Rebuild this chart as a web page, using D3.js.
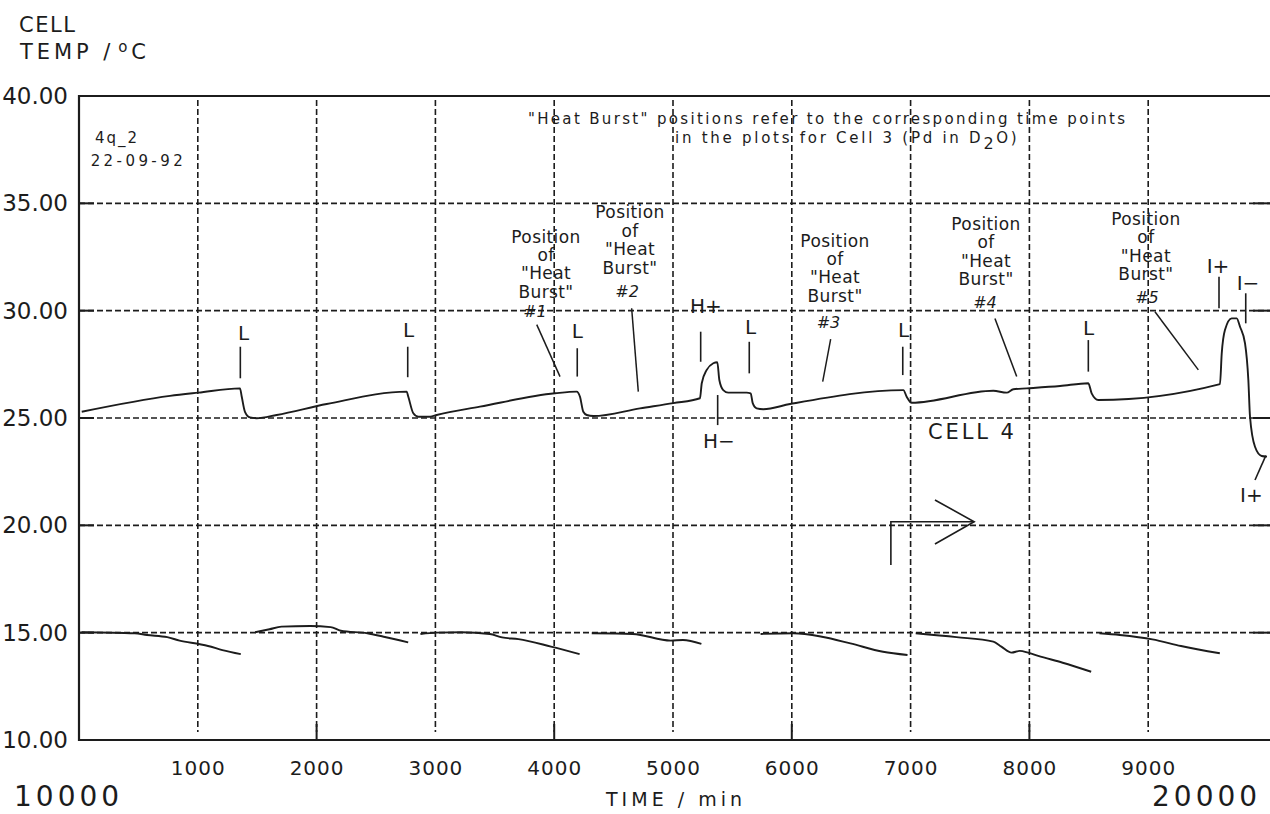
<!DOCTYPE html>
<html>
<head>
<meta charset="utf-8">
<title>Cell 4 temperature vs time</title>
<script src="https://cdn.jsdelivr.net/npm/d3@7"></script>
<style>
  html, body { margin: 0; padding: 0; background: #fff; }
  svg { display: block; }
  .txt { font-family: 'DejaVu Sans', sans-serif; fill: #1c1c1c; }
</style>
</head>
<body>
<svg id="chart" width="1270" height="814"></svg>
<script>
'use strict';

/* ── Data (time in min after 10000, temperature in °C) ───── */
const X_TICKS = [1000, 2000, 3000, 4000, 5000, 6000, 7000, 8000, 9000];
const X_MAJOR = [2000, 4000, 6000, 8000];
const Y_TICKS = [10, 15, 20, 25, 30, 35, 40];
const X_LEFT_LABEL  = '10000';
const X_RIGHT_LABEL = '20000';

/* Cell 4 temperature (upper trace) */
const CELL4 = [
  [23, 25.29], [766, 26.03], [1004, 26.18], [1355, 26.38], [1370, 25.99], [1397, 25.29],
  [1439, 25.03], [1496, 24.99], [1664, 25.14], [2085, 25.65], [2758, 26.23], [2772, 25.99],
  [2814, 25.22], [2856, 25.06], [2955, 25.06], [3011, 25.14], [3375, 25.53], [4007, 26.15],
  [4189, 26.23], [4217, 25.99], [4245, 25.29], [4274, 25.14], [4329, 25.09], [4722, 25.45],
  [5003, 25.69], [5227, 25.92], [5242, 26.62], [5284, 27.24], [5339, 27.55], [5373, 27.6],
  [5390, 26.77], [5423, 26.3], [5465, 26.18], [5620, 26.18], [5654, 26.15], [5671, 25.69],
  [5704, 25.45], [5760, 25.41], [5985, 25.65], [6939, 26.3], [6967, 25.99], [7009, 25.71],
  [7696, 26.27], [7809, 26.18], [7865, 26.34], [7977, 26.38], [8258, 26.49], [8496, 26.62],
  [8524, 26.15], [8580, 25.84], [9604, 26.58], [9619, 28.01], [9646, 29.1], [9703, 29.64],
  [9745, 29.64], [9773, 29.25], [9815, 28.48], [9843, 26.77], [9857, 25.06], [9899, 23.66],
  [9955, 23.23], [10000, 23.2]
];

/* Lower trace, broken into the runs between load changes */
const LOWER_RUNS = [
  [[22, 15.02], [469, 14.97], [572, 14.89], [743, 14.79], [847, 14.63], [1018, 14.46],
   [1086, 14.38], [1207, 14.19], [1362, 14.0]],
  [[1482, 15.02], [1603, 15.16], [1705, 15.28], [1946, 15.31], [2118, 15.26], [2204, 15.09],
   [2427, 14.97], [2565, 14.81], [2771, 14.55]],
  [[2874, 14.94], [3011, 15.0], [3217, 15.02], [3458, 14.94], [3561, 14.78], [3699, 14.7],
   [3973, 14.35], [4214, 14.0]],
  [[4316, 14.97], [4661, 14.94], [4981, 14.63], [5084, 14.66], [5239, 14.48]],
  [[5737, 14.94], [6013, 14.97], [6253, 14.81], [6493, 14.5], [6768, 14.11], [6974, 13.96]],
  [[7043, 14.97], [7386, 14.79], [7696, 14.58], [7764, 14.35], [7850, 14.07], [7919, 14.15],
   [7988, 14.07], [8074, 13.92], [8280, 13.6], [8520, 13.18]],
  [[8589, 14.97], [8761, 14.89], [9035, 14.69], [9276, 14.38], [9603, 14.04]]
];

/* Event markers: label, line time, line top/bottom temp, label anchor */
const MARKS = [
  { label: 'L',  t: 1358, top: 28.32, bottom: 26.85, lt: 1338, lT: 28.63 },
  { label: 'L',  t: 2767, top: 28.32, bottom: 26.90, lt: 2727, lT: 28.79 },
  { label: 'L',  t: 4194, top: 28.25, bottom: 26.93, lt: 4147, lT: 28.71 },
  { label: 'H+', t: 5233, top: 29.02, bottom: 27.62, lt: 5143, lT: 29.89 },
  { label: 'L',  t: 5642, top: 28.55, bottom: 27.08, lt: 5606, lT: 28.91 },
  { label: 'L',  t: 6934, top: 28.32, bottom: 27.00, lt: 6894, lT: 28.79 },
  { label: 'L',  t: 8496, top: 28.63, bottom: 27.16, lt: 8451, lT: 28.87 },
  { label: 'I+', t: 9596, top: 31.58, bottom: 30.11, lt: 9492, lT: 31.74 },
  { label: 'I\u2212', t: 9821, top: 30.81, bottom: 29.41, lt: 9745, lT: 30.96 },
  { label: 'H\u2212', t: 5376, top: 26.07, bottom: 24.67, lt: 5253, lT: 23.60 }
];
const I_PLUS_END = { label: 'I+', from: [9990, 23.25], to: [9899, 22.11], lt: 9773, lT: 21.1 };

/* "Heat Burst" position notes */
const BURST_LINES = ['Position', 'of', '"Heat', 'Burst"'];
const BURSTS = [
  { n: '#1', t: 3931, T: 33.17, ht: 3838, hT: 29.70, from: [3853, 29.35], to: [4049, 26.93] },
  { n: '#2', t: 4638, T: 34.30, ht: 4613, hT: 30.62, from: [4652, 30.11], to: [4708, 26.23] },
  { n: '#3', t: 6364, T: 32.98, ht: 6309, hT: 29.18, from: [6327, 28.67], to: [6260, 26.69] },
  { n: '#4', t: 7635, T: 33.76, ht: 7626, hT: 30.11, from: [7710, 29.64], to: [7893, 26.93] },
  { n: '#5', t: 8981, T: 33.99, ht: 8990, hT: 30.34, from: [9057, 29.95], to: [9422, 27.24] }
];

const NOTE_LINE1 = { text: '"Heat Burst" positions refer to the corresponding time points', t0: 3779, t1: 8805, T: 38.7 };
const NOTE_LINE2 = { t0: 5017, t1: 7893, T: 37.8 };
const RUN_ID   = { text: '4q_2',     t0: 135, t1: 488, T: 37.81 };
const RUN_DATE = { text: '22-09-92', t0: 98,  t1: 873, T: 36.74 };
const CELL_TAG = { text: 'CELL 4',   t0: 7146, t1: 7870, T: 24.02 };

const ARROW_STEM  = [[6834, 18.15], [6834, 20.17], [7535, 20.17]];
const ARROW_HEAD  = [[7205, 21.18], [7535, 20.17], [7205, 19.13]];

/* ── Layout ───────────────────────────────────────────────── */
const svg = d3.select('#chart');
const W = 1270, H = 814;

const x = d3.scaleLinear().domain([0, 10000]).range([79, 1267]);
const y = d3.scaleLinear().domain([10, 40]).range([740, 96]);

const INK = '#1c1c1c';
const line = d3.line().x(d => x(d[0])).y(d => y(d[1]));
const smooth = d3.line().x(d => x(d[0])).y(d => y(d[1])).curve(d3.curveMonotoneX);

svg.append('rect').attr('width', W).attr('height', H).attr('fill', '#fff');

/* ── Grid ── */
const inner = Y_TICKS.filter(v => v > 10 && v < 40);

svg.append('g').selectAll('line')
  .data(inner)
  .join('line')
  .attr('x1', x(0)).attr('x2', W)
  .attr('y1', d => y(d)).attr('y2', d => y(d))
  .attr('stroke', INK).attr('stroke-width', 1.6)
  .attr('stroke-dasharray', '6 3');

svg.append('g').selectAll('line')
  .data(X_TICKS)
  .join('line')
  .attr('x1', d => x(d)).attr('x2', d => x(d))
  .attr('y1', y(40) + 4).attr('y2', y(10) - 8)
  .attr('stroke', INK).attr('stroke-width', 1.6)
  .attr('stroke-dasharray', '6 3');

/* solid tick stubs on the frame */
svg.append('g').selectAll('line')
  .data(inner)
  .join('line')
  .attr('x1', x(0)).attr('x2', x(0) + 15)
  .attr('y1', d => y(d)).attr('y2', d => y(d))
  .attr('stroke', INK).attr('stroke-width', 2);

svg.append('g').selectAll('line')
  .data(inner)
  .join('line')
  .attr('x1', x(10000) - 14).attr('x2', W)
  .attr('y1', d => y(d)).attr('y2', d => y(d))
  .attr('stroke', INK).attr('stroke-width', 2);

svg.append('g').selectAll('line')
  .data(X_MAJOR)
  .join('line')
  .attr('x1', d => x(d)).attr('x2', d => x(d))
  .attr('y1', y(10)).attr('y2', y(10) - 16)
  .attr('stroke', INK).attr('stroke-width', 2);

/* ── Frame ── */
svg.append('path')
  .attr('d', `M${W},${y(40)}H${x(0)}V${y(10)}H${W}`)
  .attr('fill', 'none').attr('stroke', INK).attr('stroke-width', 2.2);

/* ── Axes labels ── */
const yAxis = d3.axisLeft(y).tickValues(Y_TICKS).tickFormat(d3.format('.2f'))
  .tickSize(0).tickPadding(11);
const yG = svg.append('g').attr('transform', `translate(${x(0)},0)`).call(yAxis);
yG.select('.domain').remove();
yG.selectAll('.tick text')
  .attr('class', 'txt').attr('font-size', 23).attr('fill', INK);

const xAxis = d3.axisBottom(x).tickValues(X_TICKS).tickFormat(d3.format('d'))
  .tickSize(0).tickPadding(21);
const xG = svg.append('g').attr('transform', `translate(0,${y(10)})`).call(xAxis);
xG.select('.domain').remove();
xG.selectAll('.tick text')
  .attr('class', 'txt').attr('font-size', 20).attr('letter-spacing', 1).attr('fill', INK);

svg.append('text').attr('class', 'txt')
  .attr('x', 14).attr('y', 806).attr('font-size', 28).attr('letter-spacing', 4)
  .text(X_LEFT_LABEL);

svg.append('text').attr('class', 'txt')
  .attr('x', 1152).attr('y', 806).attr('font-size', 28).attr('letter-spacing', 4)
  .text(X_RIGHT_LABEL);

svg.append('text').attr('class', 'txt')
  .attr('x', 606).attr('y', 806).attr('font-size', 19)
  .attr('textLength', 136).attr('lengthAdjust', 'spacing')
  .text('TIME  /  min');

svg.append('text').attr('class', 'txt')
  .attr('x', 19).attr('y', 32).attr('font-size', 21)
  .attr('textLength', 56).attr('lengthAdjust', 'spacing')
  .text('CELL');

const yTitle = svg.append('text').attr('class', 'txt')
  .attr('x', 20).attr('y', 59).attr('font-size', 21)
  .attr('textLength', 126).attr('lengthAdjust', 'spacing');
yTitle.append('tspan').text('TEMP  /');
yTitle.append('tspan').attr('font-size', 15).attr('dy', -7).attr('dx', 4).text('o');
yTitle.append('tspan').attr('dy', 7).text('C');

/* ── Traces ── */
svg.append('path')
  .datum(CELL4)
  .attr('d', smooth)
  .attr('fill', 'none').attr('stroke', INK).attr('stroke-width', 1.9)
  .attr('stroke-linejoin', 'round');

svg.append('g').selectAll('path')
  .data(LOWER_RUNS)
  .join('path')
  .attr('d', smooth)
  .attr('fill', 'none').attr('stroke', INK).attr('stroke-width', 1.9)
  .attr('stroke-linejoin', 'round');

/* ── Event markers ── */
const markG = svg.append('g');
MARKS.forEach(m => {
  markG.append('line')
    .attr('x1', x(m.t)).attr('x2', x(m.t))
    .attr('y1', y(m.top)).attr('y2', y(m.bottom))
    .attr('stroke', INK).attr('stroke-width', 1.6);
  markG.append('text').attr('class', 'txt')
    .attr('x', x(m.lt)).attr('y', y(m.lT))
    .attr('font-size', 20)
    .text(m.label);
});

markG.append('path')
  .attr('d', line([I_PLUS_END.from, I_PLUS_END.to]))
  .attr('stroke', INK).attr('stroke-width', 1.6);
markG.append('text').attr('class', 'txt')
  .attr('x', x(I_PLUS_END.lt)).attr('y', y(I_PLUS_END.lT))
  .attr('font-size', 20)
  .text(I_PLUS_END.label);

/* ── Heat burst notes ── */
const burstG = svg.append('g');
BURSTS.forEach(b => {
  BURST_LINES.forEach((s, i) => {
    burstG.append('text').attr('class', 'txt')
      .attr('x', x(b.t)).attr('y', y(b.T) + i * 18.4)
      .attr('text-anchor', 'middle')
      .attr('font-size', 17).attr('letter-spacing', 0.4)
      .text(s);
  });
  burstG.append('text').attr('class', 'txt')
    .attr('x', x(b.ht)).attr('y', y(b.hT))
    .attr('text-anchor', 'middle')
    .attr('font-size', 16).attr('font-style', 'italic')
    .text(b.n);
  burstG.append('path')
    .attr('d', line([b.from, b.to]))
    .attr('stroke', INK).attr('stroke-width', 1.5);
});

/* ── Text notes inside the plot ── */
function fitText(spec, size) {
  return svg.append('text').attr('class', 'txt')
    .attr('x', x(spec.t0)).attr('y', y(spec.T))
    .attr('font-size', size)
    .attr('textLength', x(spec.t1) - x(spec.t0)).attr('lengthAdjust', 'spacing');
}

fitText(NOTE_LINE1, 15).text(NOTE_LINE1.text);
const note2 = fitText(NOTE_LINE2, 15);
note2.append('tspan').text('in the plots for Cell 3 (Pd in D');
note2.append('tspan').attr('dy', 6).attr('font-size', 16).text('2');
note2.append('tspan').attr('dy', -6).text('O)');

fitText(RUN_ID, 15).text(RUN_ID.text);
fitText(RUN_DATE, 15).text(RUN_DATE.text);
fitText(CELL_TAG, 21).text(CELL_TAG.text);

/* ── Arrow ── */
svg.append('path')
  .attr('d', line(ARROW_STEM))
  .attr('fill', 'none').attr('stroke', INK).attr('stroke-width', 1.6);
svg.append('path')
  .attr('d', line(ARROW_HEAD))
  .attr('fill', 'none').attr('stroke', INK).attr('stroke-width', 1.6);
</script>
</body>
</html>
